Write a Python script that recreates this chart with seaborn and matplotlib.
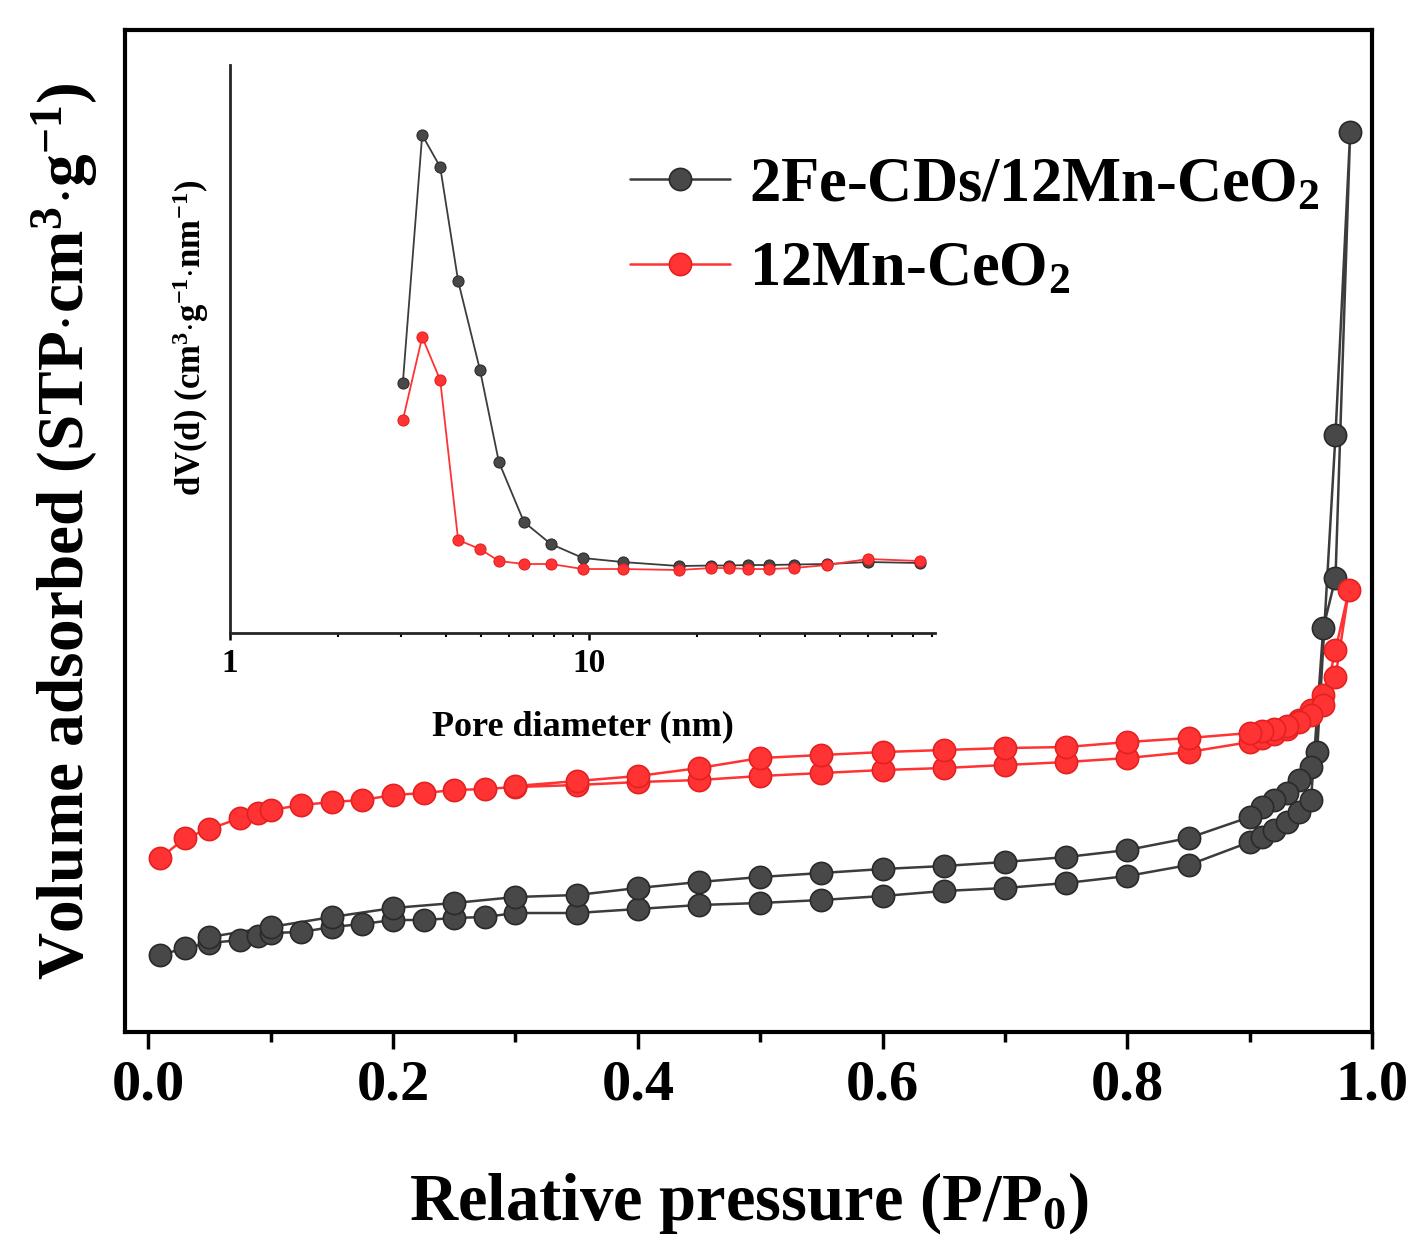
import numpy as np
import pandas as pd
import matplotlib
matplotlib.use('Agg')
import matplotlib.pyplot as plt
import seaborn as sns

# isotherm data (relative pressure vs volume adsorbed, arbitrary units)
p_fe_ads = [0.01, 0.03, 0.05, 0.075, 0.09, 0.1, 0.125, 0.15, 0.175, 0.2, 0.225, 0.25, 0.275, 0.3,
            0.35, 0.4, 0.45, 0.5, 0.55, 0.6, 0.65, 0.7, 0.75, 0.8, 0.85, 0.9, 0.91, 0.92, 0.93,
            0.94, 0.95, 0.96, 0.97, 0.982]
v_fe_ads = [7.7, 8.4, 8.9, 9.2, 9.6, 9.9, 10.0, 10.5, 10.8, 11.2, 11.2, 11.4, 11.5, 11.9,
            11.9, 12.3, 12.7, 12.9, 13.2, 13.6, 14.1, 14.4, 14.9, 15.6, 16.7, 19.0, 19.5, 20.2, 21.0,
            22.0, 23.2, 40.4, 45.4, 90.0]
p_fe_des = [0.97, 0.955, 0.95, 0.94, 0.93, 0.92, 0.91, 0.9, 0.85, 0.8, 0.75, 0.7, 0.65, 0.6,
            0.55, 0.5, 0.45, 0.4, 0.35, 0.3, 0.25, 0.2, 0.15, 0.1, 0.05]
v_fe_des = [59.7, 28.0, 26.5, 25.2, 23.9, 23.2, 22.5, 21.5, 19.4, 18.2, 17.5, 17.0, 16.6, 16.3,
            15.9, 15.5, 15.0, 14.4, 13.7, 13.5, 12.9, 12.4, 11.5, 10.5, 9.5]

p_mn_ads = [0.01, 0.03, 0.05, 0.075, 0.09, 0.1, 0.125, 0.15, 0.175, 0.2, 0.225, 0.25, 0.275, 0.3,
            0.35, 0.4, 0.45, 0.5, 0.55, 0.6, 0.65, 0.7, 0.75, 0.8, 0.85, 0.9, 0.91, 0.92, 0.93,
            0.94, 0.95, 0.96, 0.97, 0.981]
v_mn_ads = [17.4, 19.4, 20.3, 21.4, 21.9, 22.2, 22.7, 23.0, 23.2, 23.7, 23.9, 24.2, 24.3, 24.5,
            24.7, 25.0, 25.2, 25.6, 25.9, 26.2, 26.4, 26.7, 27.0, 27.4, 28.0, 29.0, 29.4, 29.8, 30.3,
            31.2, 32.2, 33.7, 35.5, 44.2]
p_mn_des = [0.97, 0.96, 0.95, 0.94, 0.93, 0.92, 0.91, 0.9, 0.85, 0.8, 0.75, 0.7, 0.65, 0.6,
            0.55, 0.5, 0.45, 0.4, 0.35, 0.3]
v_mn_des = [38.2, 32.7, 31.7, 31.0, 30.6, 30.3, 30.1, 29.9, 29.4, 29.0, 28.5, 28.4, 28.2, 28.0,
            27.7, 27.4, 26.4, 25.6, 25.1, 24.6]

# pore size distribution (inset)
pore_d = [3.03, 3.43, 3.85, 4.32, 4.97, 5.61, 6.59, 7.83, 9.62, 12.4, 17.8, 21.9, 24.5, 27.7,
          31.7, 37.2, 46.0, 59.8, 83.6]
dv_fe = [50.1, 99.6, 93.2, 70.4, 52.6, 34.2, 22.2, 17.8, 15.0, 14.2, 13.4, 13.5, 13.5, 13.6,
         13.6, 13.7, 13.8, 14.2, 14.0]
dv_mn = [42.6, 59.2, 50.6, 18.6, 16.8, 14.4, 13.8, 13.8, 12.8, 12.8, 12.6, 13.0, 13.0, 12.8,
         12.8, 13.0, 13.6, 14.8, 14.4]

labels = ['2Fe-CDs/12Mn-CeO$_2$', '12Mn-CeO$_2$']
black = '#3c3c3c'
red = '#ff3333'

sns.set_style('ticks')
plt.rcParams['font.family'] = ['Liberation Serif', 'DejaVu Serif']
plt.rcParams['font.weight'] = 'bold'
plt.rcParams['text.color'] = 'black'
plt.rcParams['axes.labelcolor'] = 'black'
plt.rcParams['xtick.color'] = 'black'
plt.rcParams['ytick.color'] = 'black'
plt.rcParams['mathtext.fontset'] = 'custom'
plt.rcParams['mathtext.rm'] = 'Liberation Serif:bold'
plt.rcParams['mathtext.it'] = 'Liberation Serif:bold'
plt.rcParams['mathtext.bf'] = 'Liberation Serif:bold'

fig = plt.figure(figsize=(14.27, 12.55), dpi=100)
ax = fig.add_axes([0.0876, 0.1777, 0.874, 0.7983])

df_fe = pd.DataFrame({'p': p_fe_ads + p_fe_des, 'v': v_fe_ads + v_fe_des})
df_mn = pd.DataFrame({'p': p_mn_ads + p_mn_des, 'v': v_mn_ads + v_mn_des})

sns.lineplot(data=df_fe, x='p', y='v', sort=False, estimator=None, ax=ax, color=black,
             lw=1.8, marker='o', markersize=16, markerfacecolor='#484848',
             markeredgecolor='#2a2a2a', markeredgewidth=1.2, label=labels[0])
sns.lineplot(data=df_mn, x='p', y='v', sort=False, estimator=None, ax=ax, color=red,
             lw=1.8, marker='o', markersize=16, markerfacecolor=red,
             markeredgecolor='#e52020', markeredgewidth=1.2, label=labels[1])

ax.set_xlim(-0.019, 1.0)
ax.set_ylim(0, 100.2)
ax.set_xticks([0.0, 0.2, 0.4, 0.6, 0.8, 1.0])
ax.set_xticks([0.1, 0.3, 0.5, 0.7, 0.9], minor=True)
ax.set_xticklabels(['0.0', '0.2', '0.4', '0.6', '0.8', '1.0'])
ax.set_yticks([])
ax.tick_params(axis='x', which='major', direction='out', length=12, width=2.5,
               labelsize=42, pad=8)
ax.tick_params(axis='x', which='minor', direction='out', length=7, width=2.5)
for s in ax.spines.values():
    s.set_linewidth(3)
    s.set_color('black')
ax.set_xlabel('Relative pressure (P/P$_0$)', fontsize=48, fontweight='bold', labelpad=42)
ax.set_ylabel(r'Volume adsorbed (STP$\cdot$cm$^3$$\cdot$g$^{-1}$)', fontsize=47,
              fontweight='bold', labelpad=18)

ax.legend(loc='center left', bbox_to_anchor=(0.405, 0.802), frameon=False, fontsize=45,
          handlelength=1.6, handletextpad=0.3, borderpad=0, borderaxespad=0, labelspacing=0.42)

# inset: pore size distribution
ins = fig.add_axes([0.1612, 0.4956, 0.494, 0.4526])
ins.patch.set_alpha(0)
sns.lineplot(x=pore_d, y=dv_fe, ax=ins, color=black, lw=1.3, marker='o', markersize=8,
             markerfacecolor='#484848', markeredgecolor='#2a2a2a', estimator=None, sort=False)
sns.lineplot(x=pore_d, y=dv_mn, ax=ins, color=red, lw=1.3, marker='o', markersize=8,
             markerfacecolor=red, markeredgecolor='#e52020', estimator=None, sort=False)
ins.set_xscale('log')
ins.set_xlim(1, 92)
ins.set_ylim(0, 113.6)
ins.set_yticks([])
ins.set_xticks([1, 10])
ins.set_xticklabels(['1', '10'])
ins.tick_params(axis='x', which='major', direction='out', length=5, width=1.8, labelsize=24, pad=6)
ins.tick_params(axis='x', which='minor', direction='out', length=3, width=1.5)
ins.spines['top'].set_visible(False)
ins.spines['right'].set_visible(False)
ins.spines['left'].set_linewidth(2)
ins.spines['bottom'].set_linewidth(2)
ins.set_xlabel('Pore diameter (nm)', fontsize=26, fontweight='bold', labelpad=22)
ins.set_ylabel(r'dV(d) (cm$^3$$\cdot$g$^{-1}$$\cdot$nm$^{-1}$)', fontsize=25,
               fontweight='bold')
ins.yaxis.set_label_coords(-0.027, 0.52)

fig.savefig('out.png', dpi=100)
